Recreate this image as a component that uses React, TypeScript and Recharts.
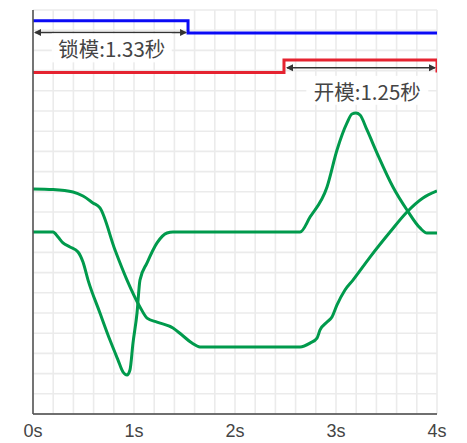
import React from "react";
import {
  LineChart,
  Line,
  XAxis,
  YAxis,
  CartesianGrid,
  ReferenceLine,
  ReferenceDot,
} from "recharts";

// tick values
const xTicks = [0, 0.2, 0.4, 0.6, 0.8, 1, 1.2, 1.4, 1.6, 1.8, 2, 2.2, 2.4, 2.6, 2.8, 3, 3.2, 3.4, 3.6, 3.8, 4];
const yTicks = [0, 1, 2, 3, 4, 5, 6, 7, 8, 9, 10, 11, 12, 13, 14, 15, 16, 17, 18, 19, 20];

// blue (lock) signal
const blueT = [0, 1.535, 4];
const blueV = [19.47, 18.86, 18.86];

// red (open) signal
const redT = [0, 2.485, 4, 4];
const redV = [16.9, 17.52, 17.52, 16.9];

// green curve A
const greenAT = [0, 0.198, 0.396, 0.495, 0.594, 0.663, 0.812, 0.931, 1.059, 1.129, 1.228, 1.386, 1.475, 1.574, 1.653, 2.644, 2.743, 2.812, 2.842, 2.911, 2.96, 3.01, 3.089, 3.168, 3.337, 3.535, 3.703, 3.861, 4];
const greenAV = [11.14, 11.11, 10.99, 10.79, 10.45, 10.2, 8.12, 6.63, 5.3, 4.75, 4.55, 4.26, 3.91, 3.51, 3.32, 3.32, 3.51, 3.76, 4.16, 4.55, 4.8, 5.4, 6.14, 6.63, 7.77, 9.01, 10.0, 10.69, 11.04];

// green curve B
const greenBT = [0, 0.198, 0.248, 0.297, 0.366, 0.446, 0.495, 0.545, 0.663, 0.762, 0.842, 0.891, 0.931, 0.96, 0.99, 1.03, 1.059, 1.129, 1.228, 1.327, 1.386, 2.644, 2.743, 2.911, 3.01, 3.109, 3.158, 3.198, 3.238, 3.307, 3.406, 3.564, 3.703, 3.832, 3.901, 4];
const greenBV = [9.01, 9.01, 8.76, 8.47, 8.27, 8.02, 7.52, 6.63, 5.0, 3.66, 2.67, 2.08, 1.93, 2.18, 3.51, 5.0, 6.63, 7.48, 8.47, 8.96, 9.01, 9.01, 9.75, 11.24, 13.07, 14.41, 14.85, 14.9, 14.8, 14.06, 12.92, 11.24, 10.1, 9.21, 8.96, 8.96];

// annotations
const lockArrow = { t1: 0, t2: 1.535, v: 18.88 };
const openArrow = { t1: 2.495, t2: 4, v: 17.14 };
const lockLabel = { t: 0.78, v: 18.1, text: "锁模:1.33秒" };
const openLabel = { t: 3.31, v: 16.0, text: "开模:1.25秒" };

const zip = (ts: number[], vs: number[]) => ts.map((t, i) => ({ t, v: vs[i] }));

const blueData = zip(blueT, blueV);
const redData = zip(redT, redV);
const greenAData = zip(greenAT, greenAV);
const greenBData = zip(greenBT, greenBV);

const GREEN = "#009a4c";
const TEXT = "#444";

const arrowShape = (props: any) => {
  const { x1, y1, x2, y2 } = props;
  const h = 7;
  const w = 3.5;
  return (
    <g>
      <line x1={x1 + 2} y1={y1} x2={x2 - 2} y2={y2} stroke="#333" strokeWidth={1.5} />
      <polygon points={`${x1 + 1},${y1} ${x1 + 1 + h},${y1 - w} ${x1 + 1 + h},${y1 + w}`} fill="#333" />
      <polygon points={`${x2 - 1},${y2} ${x2 - 1 - h},${y2 - w} ${x2 - 1 - h},${y2 + w}`} fill="#333" />
    </g>
  );
};

const labelShape = (text: string, w: number) => (props: any) => {
  const { cx, cy } = props;
  return (
    <g>
      <rect x={cx - w / 2} y={cy - 15} width={w} height={29} fill="#fff" fillOpacity={0.92} />
      <text
        x={cx}
        y={cy}
        textAnchor="middle"
        dominantBaseline="central"
        fontSize={20.5}
        fill={TEXT}
        fontFamily="'Noto Sans CJK SC', 'Noto Sans', sans-serif"
      >
        {text}
      </text>
    </g>
  );
};

export default function App() {
  return (
    <LineChart width={451} height={435} margin={{ top: 2, right: 22, left: 24, bottom: 0 }}>
      <CartesianGrid stroke="#ebebeb" strokeWidth={1.6} />
      <XAxis
        type="number"
        dataKey="t"
        domain={[0, 4]}
        ticks={xTicks}
        interval={0}
        allowDataOverflow
        height={29}
        tickLine={false}
        tickMargin={4}
        tickFormatter={(v: number) => (Number.isInteger(v) ? `${v}s` : "")}
        tick={{ fontSize: 18, fill: TEXT, fontFamily: "'Liberation Sans', Arial, sans-serif" }}
        axisLine={{ stroke: "#444", strokeWidth: 1.6 }}
      />
      <YAxis
        type="number"
        domain={[0, 20]}
        ticks={yTicks}
        interval={0}
        width={1}
        tickFormatter={() => ""}
        tickLine={false}
        axisLine={{ stroke: "#555", strokeWidth: 1.6 }}
      />
      <Line data={greenAData} dataKey="v" type="monotone" stroke={GREEN} strokeWidth={3} dot={false} isAnimationActive={false} />
      <Line data={greenBData} dataKey="v" type="monotone" stroke={GREEN} strokeWidth={3} dot={false} isAnimationActive={false} />
      <Line data={redData} dataKey="v" type="stepAfter" stroke="#e52330" strokeWidth={3} dot={false} isAnimationActive={false} />
      <Line data={blueData} dataKey="v" type="stepAfter" stroke="#0a0af5" strokeWidth={3} dot={false} isAnimationActive={false} />
      <ReferenceLine
        segment={[{ x: lockArrow.t1, y: lockArrow.v }, { x: lockArrow.t2, y: lockArrow.v }]}
        ifOverflow="visible"
        shape={arrowShape}
      />
      <ReferenceLine
        segment={[{ x: openArrow.t1, y: openArrow.v }, { x: openArrow.t2, y: openArrow.v }]}
        ifOverflow="visible"
        shape={arrowShape}
      />
      <ReferenceDot x={lockLabel.t} y={lockLabel.v} ifOverflow="visible" shape={labelShape(lockLabel.text, 120)} />
      <ReferenceDot x={openLabel.t} y={openLabel.v} ifOverflow="visible" shape={labelShape(openLabel.text, 122)} />
    </LineChart>
  );
}
